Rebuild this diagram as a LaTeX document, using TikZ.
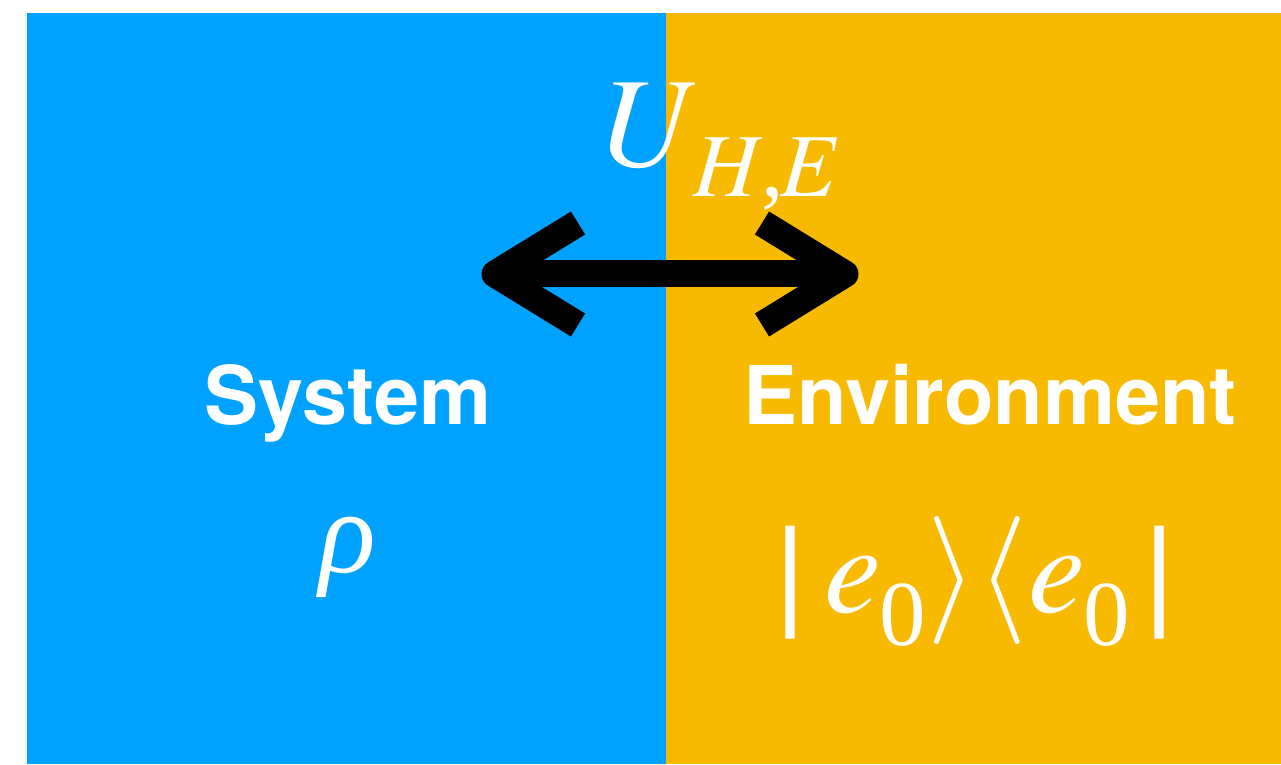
\documentclass[tikz,border=0pt]{standalone}
\usepackage{mathptmx}
\usepackage[no-math]{fontspec}
\setmainfont{Liberation Serif}
\setsansfont{TeX Gyre Heros}
\newfontfamily\barfont{DejaVu Sans}
\definecolor{sysblue}{RGB}{0,162,255}
\definecolor{envorange}{RGB}{247,186,0}
\newcommand{\subz}{\kern-2pt\raisebox{-33pt}{\fontsize{93}{100}\selectfont 0}}
\newcommand{\kbar}{{\barfont\fontsize{113}{120}\selectfont|}}
\tikzset{
  label/.style={text=white, inner sep=0pt, font=\sffamily\bfseries\fontsize{81}{100}\selectfont},
  mathlbl/.style={text=white, inner sep=0pt, font=\fontsize{128}{150}\selectfont},
  bigarrow/.style={line width=27pt, line join=round, line cap=butt, black}
}
\begin{document}
\begin{tikzpicture}[x=1pt,y=1pt]
\useasboundingbox (0,0) rectangle (1281,764);
\fill[sysblue] (27,0) rectangle (666,751);
\fill[envorange] (666,0) rectangle (1281,751);
% arrow
\coordinate (lt) at (495,490);
\coordinate (la1) at (578,541);
\coordinate (la2) at (578,439);
\coordinate (rt) at (845,490);
\coordinate (ra1) at (762,541);
\coordinate (ra2) at (762,439);
\draw[bigarrow] (la1) -- (lt) -- (la2);
\draw[bigarrow] (ra1) -- (rt) -- (ra2);
\draw[bigarrow] (lt) -- (rt);
% texts
\node[mathlbl, anchor=base west] (u) at (604,597) {$U$\kern-9pt\raisebox{-30pt}{\fontsize{90}{100}\selectfont$H$\kern-3pt,\kern-3pt$E$}};
\node[label, anchor=base] (sys) at (348,340) {System};
\node[label, anchor=base] (env) at (990,340) {Environment};
\node[mathlbl, anchor=base] (rho) at (348,192) {\fontsize{118}{130}\selectfont\textit{ρ}};
\node[mathlbl, anchor=base west] (ket) at (771,152) {\kbar\hspace{15pt}$e$\subz\kern2pt$\rangle\langle$\kern2pt$e$\subz\hspace{10pt}\kbar};
\end{tikzpicture}
\end{document}
